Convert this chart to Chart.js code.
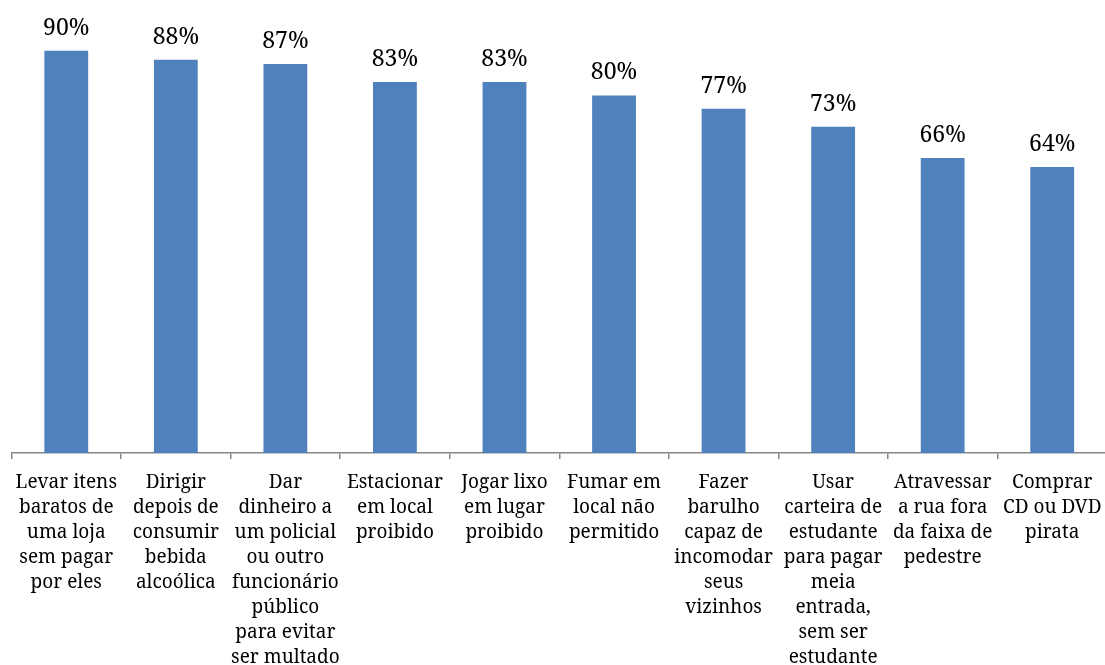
<!DOCTYPE html>
<html>
<head>
<meta charset="utf-8">
<script src="https://cdn.jsdelivr.net/npm/chart.js@4/dist/chart.umd.min.js"></script>
<style>
  html, body { margin: 0; padding: 0; background: #fff; overflow: hidden; width: 1105px; height: 665px; }
  canvas { display: block; }
</style>
</head>
<body>
<canvas id="c" width="1107" height="665"></canvas>
<script>
const categories = [
  ["Levar itens", "baratos de", "uma loja", "sem pagar", "por eles"],
  ["Dirigir", "depois de", "consumir", "bebida", "alcoólica"],
  ["Dar", "dinheiro a", "um policial", "ou outro", "funcionário", "público", "para evitar", "ser multado"],
  ["Estacionar", "em local", "proibido"],
  ["Jogar lixo", "em lugar", "proibido"],
  ["Fumar em", "local não", "permitido"],
  ["Fazer", "barulho", "capaz de", "incomodar", "seus", "vizinhos"],
  ["Usar", "carteira de", "estudante", "para pagar", "meia", "entrada,", "sem ser", "estudante"],
  ["Atravessar", "a rua fora", "da faixa de", "pedestre"],
  ["Comprar", "CD ou DVD", "pirata"]
];
const values = [90, 88, 87, 83, 83, 80, 77, 73, 66, 64];
const valueLabels = ["90%", "88%", "87%", "83%", "83%", "80%", "77%", "73%", "66%", "64%"];

const FONT = "'Noto Serif', 'DejaVu Serif', 'Liberation Serif', serif";

const valueLabelPlugin = {
  id: 'valueLabels',
  afterDatasetsDraw(chart) {
    const ctx = chart.ctx;
    const meta = chart.getDatasetMeta(0);
    ctx.save();
    ctx.font = "23px " + FONT;
    ctx.fillStyle = "#000";
    ctx.textAlign = "center";
    ctx.textBaseline = "alphabetic";
    meta.data.forEach((bar, i) => {
      ctx.fillText(valueLabels[i], bar.x, bar.y - 16);
    });
    ctx.restore();
  }
};

new Chart(document.getElementById('c'), {
  type: 'bar',
  data: {
    labels: categories,
    datasets: [{
      data: values,
      backgroundColor: '#4F81BD',
      borderWidth: 0,
      categoryPercentage: 1.0,
      barPercentage: 0.4
    }]
  },
  options: {
    responsive: false,
    devicePixelRatio: 1,
    animation: false,
    layout: { padding: { left: 11.5, right: 0, top: 6, bottom: 0 } },
    plugins: {
      legend: { display: false },
      tooltip: { enabled: false }
    },
    scales: {
      y: {
        display: false,
        min: 0,
        max: 100
      },
      x: {
        offset: true,
        grid: {
          offset: true,
          drawOnChartArea: false,
          drawTicks: true,
          tickLength: 6,
          color: '#868686',
          lineWidth: 1.5
        },
        border: { display: true, color: '#868686', width: 1.5 },
        ticks: {
          autoSkip: false,
          maxRotation: 0,
          minRotation: 0,
          padding: 11,
          color: '#000',
          font: { family: FONT, size: 19, lineHeight: 25/19 }
        },
        afterFit(scale) {
          scale.height = 212;
          scale.paddingLeft = 0;
          scale.paddingRight = 0;
        }
      }
    }
  },
  plugins: [valueLabelPlugin]
});
</script>
</body>
</html>
